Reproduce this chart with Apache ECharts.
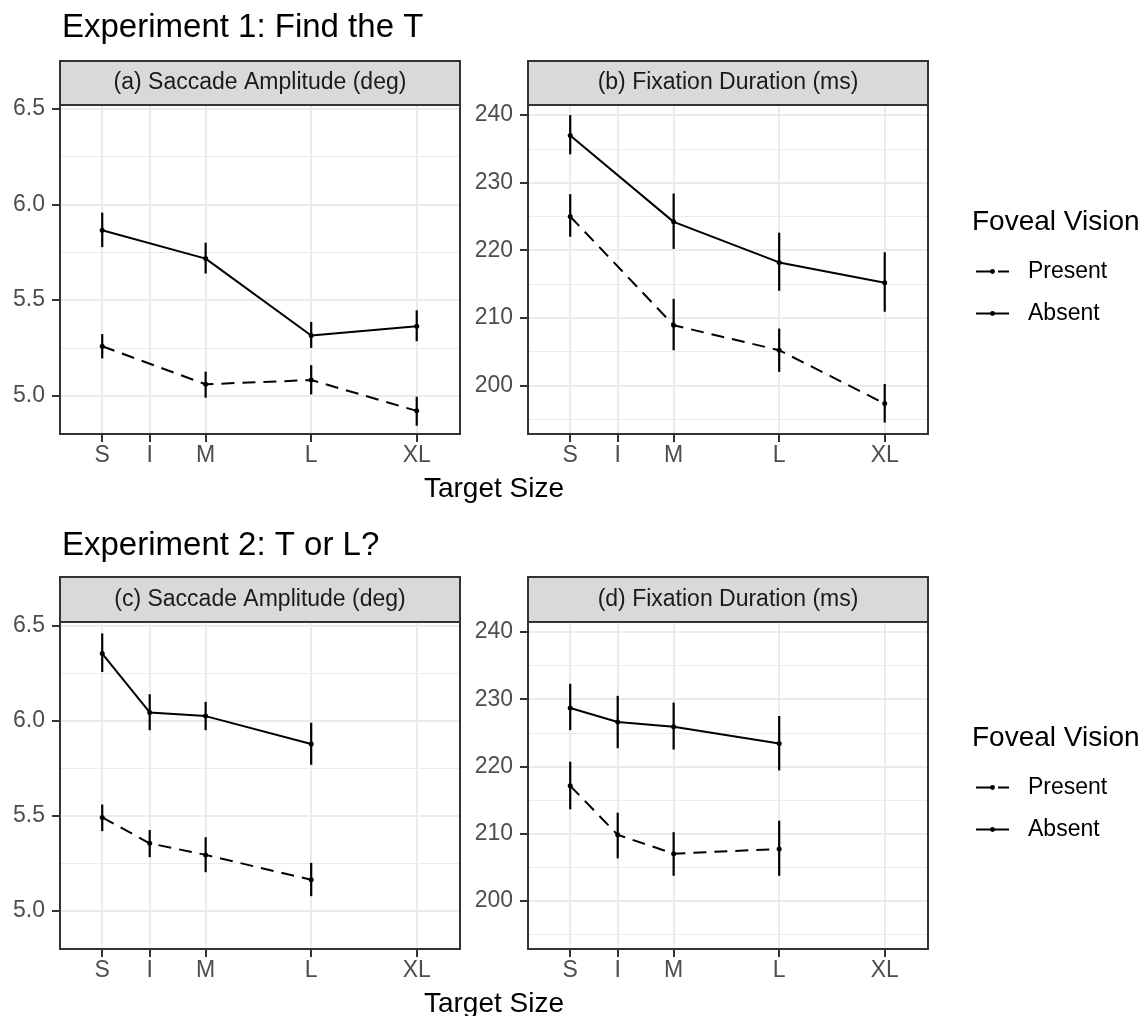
<!DOCTYPE html>
<html>
<head>
<meta charset="utf-8">
<title>Foveal Vision</title>
<script src="https://cdn.jsdelivr.net/npm/echarts@6.0.0/dist/echarts.min.js"></script>
<style>
  html, body { margin: 0; padding: 0; background: #fff; }
  #chart { width: 1148px; height: 1016px; }
</style>
</head>
<body>
<div id="chart"></div>
<script>
// target sizes on the x axis
const sizeNames = ['S', 'I', 'M', 'L', 'XL'];
const sizeValues = [1.02, 1.47, 2, 3, 4];
const exp1Sizes = ['S', 'M', 'L', 'XL'];
const exp2Sizes = ['S', 'I', 'M', 'L'];

// (a) saccade amplitude, experiment 1
const ampAbsent1 = [5.865, 5.717, 5.315, 5.363];
const ampAbsent1Lo = [5.777, 5.639, 5.250, 5.285];
const ampAbsent1Hi = [5.957, 5.800, 5.386, 5.447];
const ampPresent1 = [5.259, 5.060, 5.082, 4.921];
const ampPresent1Lo = [5.195, 4.990, 5.007, 4.843];
const ampPresent1Hi = [5.322, 5.126, 5.160, 4.995];

// (b) fixation duration, experiment 1
const durAbsent1 = [237.0, 224.2, 218.2, 215.2];
const durAbsent1Lo = [234.2, 220.2, 214.0, 210.9];
const durAbsent1Hi = [240.0, 228.4, 222.6, 219.7];
const durPresent1 = [225.0, 208.9, 205.2, 197.3];
const durPresent1Lo = [222.0, 205.2, 202.0, 194.5];
const durPresent1Hi = [228.3, 212.8, 208.4, 200.2];

// (c) saccade amplitude, experiment 2
const ampAbsent2 = [6.354, 6.044, 6.025, 5.878];
const ampAbsent2Lo = [6.257, 5.951, 5.951, 5.769];
const ampAbsent2Hi = [6.460, 6.140, 6.100, 5.990];
const ampPresent2 = [5.492, 5.356, 5.295, 5.164];
const ampPresent2Lo = [5.420, 5.283, 5.204, 5.078];
const ampPresent2Hi = [5.560, 5.426, 5.388, 5.253];

// (d) fixation duration, experiment 2
const durAbsent2 = [228.7, 226.6, 225.9, 223.4];
const durAbsent2Lo = [225.4, 222.7, 222.5, 219.4];
const durAbsent2Hi = [232.3, 230.5, 229.5, 227.5];
const durPresent2 = [217.1, 209.8, 207.0, 207.7];
const durPresent2Lo = [213.6, 206.3, 203.7, 203.7];
const durPresent2Hi = [220.7, 213.1, 210.2, 211.9];

// axis breaks
const ampTicks = [5.0, 5.5, 6.0, 6.5];
const ampMinor = [5.25, 5.75, 6.25];
const durTicks = [200, 210, 220, 230, 240];
const durMinor = [195, 205, 215, 225, 235];

const FONT = '"Liberation Sans", Arial, Helvetica, sans-serif';

let panels = [
  {left: 60, top: 105, width: 400, height: 329, strip: 44, label: '(a) Saccade Amplitude (deg)', sizes: exp1Sizes,
   kind: 'amp', absent: [ampAbsent1, ampAbsent1Lo, ampAbsent1Hi], present: [ampPresent1, ampPresent1Lo, ampPresent1Hi]},
  {left: 528, top: 105, width: 400, height: 329, strip: 44, label: '(b) Fixation Duration (ms)', sizes: exp1Sizes,
   kind: 'dur', absent: [durAbsent1, durAbsent1Lo, durAbsent1Hi], present: [durPresent1, durPresent1Lo, durPresent1Hi]},
  {left: 60, top: 622, width: 400, height: 327, strip: 45, label: '(c) Saccade Amplitude (deg)', sizes: exp2Sizes,
   kind: 'amp', absent: [ampAbsent2, ampAbsent2Lo, ampAbsent2Hi], present: [ampPresent2, ampPresent2Lo, ampPresent2Hi]},
  {left: 528, top: 622, width: 400, height: 327, strip: 45, label: '(d) Fixation Duration (ms)', sizes: exp2Sizes,
   kind: 'dur', absent: [durAbsent2, durAbsent2Lo, durAbsent2Hi], present: [durPresent2, durPresent2Lo, durPresent2Hi]}
];

let yRange = {amp: [4.80, 6.52], dur: [192.8, 241.5]};

function xOf(name) {
  return sizeValues[sizeNames.indexOf(name)];
}
function sizeLabel(v) {
  let best = 0;
  sizeValues.forEach((s, i) => {
    if (Math.abs(s - v) < Math.abs(sizeValues[best] - v)) best = i;
  });
  return sizeNames[best];
}
function points(sizes, values) {
  return sizes.map((s, i) => [xOf(s), values[i]]);
}
function ranges(sizes, lo, hi) {
  return sizes.map((s, i) => [xOf(s), lo[i], hi[i]]);
}
function renderErrorBar(params, api) {
  let top = api.coord([api.value(0), api.value(2)]);
  let bottom = api.coord([api.value(0), api.value(1)]);
  return {
    type: 'line',
    shape: {x1: top[0], y1: top[1], x2: bottom[0], y2: bottom[1]},
    style: {stroke: '#000', lineWidth: 2.2}
  };
}

let grids = [], xAxes = [], yAxes = [], series = [], graphics = [];

panels.forEach((p, i) => {
  grids.push({left: p.left, top: p.top, width: p.width, height: p.height, show: false});

  xAxes.push({
    gridIndex: i,
    type: 'value',
    min: 0.62,
    max: 4.41,
    axisLine: {show: false},
    axisTick: {show: true, length: 8, customValues: sizeValues, lineStyle: {color: '#333', width: 2}},
    axisLabel: {customValues: sizeValues, margin: 10, fontSize: 23, color: '#4d4d4d', fontFamily: FONT, formatter: sizeLabel},
    splitLine: {show: true, lineStyle: {color: '#ebebeb', width: 2}}
  });

  let ticks = p.kind === 'amp' ? ampTicks : durTicks;
  let minor = p.kind === 'amp' ? ampMinor : durMinor;
  // major breaks
  yAxes.push({
    gridIndex: i,
    type: 'value',
    position: 'left',
    min: yRange[p.kind][0],
    max: yRange[p.kind][1],
    axisLine: {show: false},
    axisTick: {show: true, length: 8, customValues: ticks, lineStyle: {color: '#333', width: 2}},
    axisLabel: {
      customValues: ticks, margin: 15, fontSize: 23, color: '#4d4d4d', fontFamily: FONT,
      formatter: v => p.kind === 'amp' ? v.toFixed(1) : String(v)
    },
    splitLine: {show: true, lineStyle: {color: '#ebebeb', width: 2}}
  });
  // minor breaks, only grid lines
  yAxes.push({
    gridIndex: i,
    type: 'value',
    position: 'right',
    min: yRange[p.kind][0],
    max: yRange[p.kind][1],
    axisLine: {show: false},
    axisTick: {show: false, customValues: minor},
    axisLabel: {show: false, customValues: minor},
    splitLine: {show: true, lineStyle: {color: '#ebebeb', width: 1}}
  });

  let yMain = i * 2;
  series.push({
    name: 'Present SE', type: 'custom', xAxisIndex: i, yAxisIndex: yMain,
    renderItem: renderErrorBar, encode: {x: 0, y: [1, 2]},
    data: ranges(p.sizes, p.present[1], p.present[2]), z: 3
  });
  series.push({
    name: 'Absent SE', type: 'custom', xAxisIndex: i, yAxisIndex: yMain,
    renderItem: renderErrorBar, encode: {x: 0, y: [1, 2]},
    data: ranges(p.sizes, p.absent[1], p.absent[2]), z: 3
  });
  series.push({
    name: 'Present', type: 'line', xAxisIndex: i, yAxisIndex: yMain,
    data: points(p.sizes, p.present[0]),
    symbol: 'circle', symbolSize: 5,
    itemStyle: {color: '#000'},
    lineStyle: {color: '#000', width: 2, type: [13, 8]}, z: 4
  });
  series.push({
    name: 'Absent', type: 'line', xAxisIndex: i, yAxisIndex: yMain,
    data: points(p.sizes, p.absent[0]),
    symbol: 'circle', symbolSize: 5,
    itemStyle: {color: '#000'},
    lineStyle: {color: '#000', width: 2}, z: 4
  });

  // facet strip and panel border
  graphics.push({
    type: 'rect', z: 100,
    shape: {x: p.left, y: p.top - p.strip, width: p.width, height: p.strip},
    style: {fill: '#d9d9d9', stroke: '#333', lineWidth: 2}
  });
  graphics.push({
    type: 'text', z: 101,
    x: p.left + p.width / 2, y: p.top - p.strip / 2,
    style: {text: p.label, fontSize: 23, fontFamily: FONT, fill: '#1a1a1a', align: 'center', verticalAlign: 'middle'}
  });
  graphics.push({
    type: 'rect', z: 100,
    shape: {x: p.left, y: p.top, width: p.width, height: p.height},
    style: {fill: 'none', stroke: '#333', lineWidth: 2}
  });
});

// axis titles and legend titles
[[494, 489], [494, 1004]].forEach(pos => {
  graphics.push({
    type: 'text', x: pos[0], y: pos[1],
    style: {text: 'Target Size', fontSize: 28, fontFamily: FONT, fill: '#000', align: 'center', verticalAlign: 'middle'}
  });
});
[[972, 222], [972, 738]].forEach(pos => {
  graphics.push({
    type: 'text', x: pos[0], y: pos[1],
    style: {text: 'Foveal Vision', fontSize: 28, fontFamily: FONT, fill: '#000', align: 'left', verticalAlign: 'middle'}
  });
});

let legendBase = {
  orient: 'vertical',
  left: 975,
  padding: 0,
  itemWidth: 33,
  itemHeight: 6,
  itemGap: 19,
  data: [{name: 'Present', lineStyle: {type: [15, 7]}}, 'Absent'],
  selectedMode: false,
  textStyle: {fontSize: 23, fontFamily: FONT, color: '#000', padding: [0, 0, 0, 14]}
};

let option = {
  backgroundColor: '#fff',
  animation: false,
  title: [
    {text: 'Experiment 1: Find the T', left: 62, top: 11, padding: 0,
     textStyle: {fontSize: 33, fontWeight: 'normal', color: '#000', fontFamily: FONT}},
    {text: 'Experiment 2: T or L?', left: 62, top: 529, padding: 0,
     textStyle: {fontSize: 33, fontWeight: 'normal', color: '#000', fontFamily: FONT}}
  ],
  legend: [
    Object.assign({}, legendBase, {top: 260}),
    Object.assign({}, legendBase, {top: 776})
  ],
  grid: grids,
  xAxis: xAxes,
  yAxis: yAxes,
  series: series,
  graphic: graphics
};

let myChart = echarts.init(document.getElementById('chart'));
myChart.setOption(option);
</script>
</body>
</html>
